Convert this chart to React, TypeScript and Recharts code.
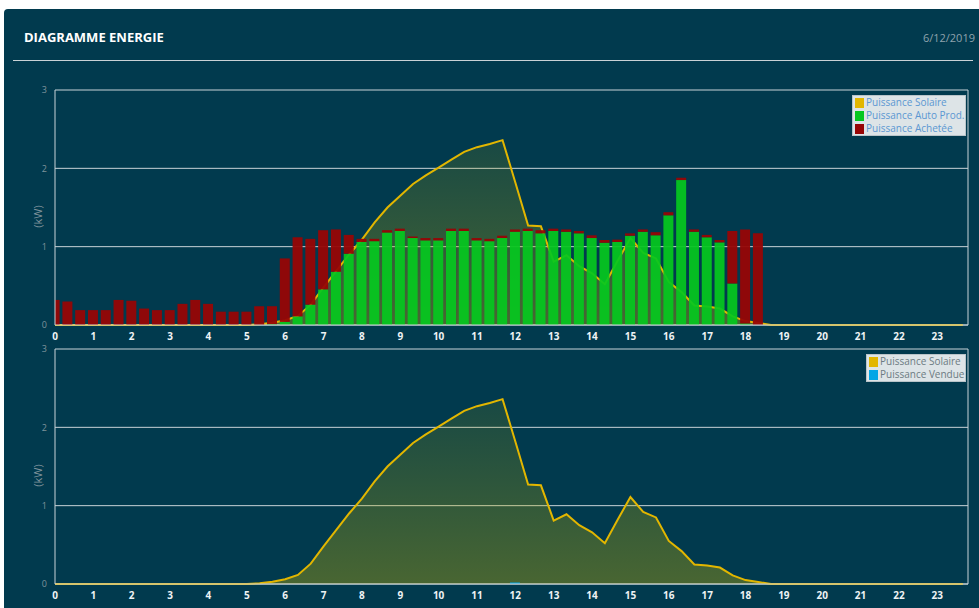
import { ComposedChart, Bar, Area, XAxis, YAxis, CartesianGrid, ReferenceLine } from 'recharts'

// pas de 20 minutes
const heures = [
  '0:00', '0:20', '0:40', '1:00', '1:20', '1:40', '2:00', '2:20', '2:40', '3:00', '3:20', '3:40',
  '4:00', '4:20', '4:40', '5:00', '5:20', '5:40', '6:00', '6:20', '6:40', '7:00', '7:20', '7:40',
  '8:00', '8:20', '8:40', '9:00', '9:20', '9:40', '10:00', '10:20', '10:40', '11:00', '11:20', '11:40',
  '12:00', '12:20', '12:40', '13:00', '13:20', '13:40', '14:00', '14:20', '14:40', '15:00', '15:20', '15:40',
  '16:00', '16:20', '16:40', '17:00', '17:20', '17:40', '18:00', '18:20', '18:40', '19:00', '19:20', '19:40',
  '20:00', '20:20', '20:40', '21:00', '21:20', '21:40', '22:00', '22:20', '22:40', '23:00', '23:20', '23:40',
]

const ticksHeures = [0, 1, 2, 3, 4, 5, 6, 7, 8, 9, 10, 11, 12, 13, 14, 15, 16, 17, 18, 19, 20, 21, 22, 23]
const ticksKw = [0, 1, 2, 3]

const puissanceSolaire = [
  0, 0, 0, 0, 0, 0, 0, 0, 0, 0, 0, 0,
  0, 0, 0, 0, 0.01, 0.03, 0.06, 0.115, 0.26, 0.48, 0.69, 0.9,
  1.09, 1.31, 1.5, 1.65, 1.8, 1.91, 2.01, 2.11, 2.21, 2.27, 2.31, 2.36,
  1.82, 1.27, 1.26, 0.81, 0.89, 0.75, 0.66, 0.52, 0.82, 1.11, 0.92, 0.85,
  0.55, 0.42, 0.25, 0.235, 0.21, 0.11, 0.05, 0.025, 0, 0, 0, 0,
  0, 0, 0, 0, 0, 0, 0, 0, 0, 0, 0, 0,
]

const puissanceAutoProd = [
  0, 0, 0, 0, 0, 0, 0, 0, 0, 0, 0, 0,
  0, 0, 0, 0, 0, 0.01, 0.04, 0.11, 0.26, 0.455, 0.68, 0.91,
  1.06, 1.07, 1.18, 1.2, 1.11, 1.08, 1.08, 1.2, 1.2, 1.08, 1.07, 1.11,
  1.19, 1.2, 1.17, 1.2, 1.19, 1.17, 1.11, 1.05, 1.06, 1.14, 1.19, 1.145,
  1.4, 1.85, 1.19, 1.12, 1.055, 0.53, 0.02, 0, null, null, null, null,
  null, null, null, null, null, null, null, null, null, null, null, null,
]

const puissanceAchetee = [
  0.32, 0.3, 0.19, 0.19, 0.19, 0.32, 0.31, 0.21, 0.19, 0.19, 0.27, 0.32,
  0.27, 0.17, 0.17, 0.17, 0.24, 0.23, 0.81, 1.01, 0.84, 0.755, 0.54, 0.24,
  0.04, 0.03, 0.03, 0.03, 0.02, 0.03, 0.03, 0.03, 0.03, 0.03, 0.03, 0.03,
  0.03, 0.03, 0.04, 0.03, 0.03, 0.03, 0.035, 0.035, 0.03, 0.03, 0.03, 0.04,
  0.04, 0.03, 0.03, 0.03, 0.03, 0.67, 1.2, 1.17, null, null, null, null,
  null, null, null, null, null, null, null, null, null, null, null, null,
]

const puissanceVendue = [
  0, 0, 0, 0, 0, 0, 0, 0, 0, 0, 0, 0,
  0, 0, 0, 0, 0, 0, 0, 0, 0, 0, 0, 0,
  0, 0, 0, 0, 0, 0, 0, 0, 0, 0, 0, 0,
  0.02, 0, 0, 0, 0, 0, 0, 0, 0, 0, 0, 0,
  0, 0, 0, 0, 0, 0, 0, 0, 0, 0, 0, 0,
  0, 0, 0, 0, 0, 0, 0, 0, 0, 0, 0, 0,
]

const FIN_JOURNEE = 23.8

const COLORS = {
  fond: '#013a4e',
  grille: '#c9d3d8',
  solaire: '#e2b600',
  autoProd: '#05c71f',
  achetee: '#970505',
  vendue: '#00a6e6',
}

const toHours = (h: string) => {
  const [hh, mm] = h.split(':').map(Number)
  return hh + mm / 60
}

const data = heures.map((h, i) => ({
  t: toHours(h),
  solaire: puissanceSolaire[i],
  autoProd: puissanceAutoProd[i],
  achetee: puissanceAchetee[i],
  vendue: puissanceVendue[i],
}))

const font = '"Open Sans", sans-serif'

function LegendBox({ items, textColor, style }: { items: { label: string; color: string }[]; textColor: string; style: any }) {
  return (
    <div
      style={{
        position: 'absolute',
        background: '#dde4e7',
        border: '1px solid #b9c4c9',
        padding: '0 0 0 2px',
        fontFamily: font,
        fontSize: 10,
        lineHeight: '13px',
        whiteSpace: 'nowrap',
        ...style,
      }}
    >
      {items.map((it) => (
        <div key={it.label} style={{ display: 'flex', alignItems: 'center' }}>
          <span style={{ width: 9, height: 10, background: it.color, marginRight: 2, display: 'inline-block' }} />
          <span style={{ color: textColor }}>{it.label}</span>
        </div>
      ))}
    </div>
  )
}

// libellé (kW) un peu sous le centre, comme l'original
const KwLabel = ({ viewBox }: any) => {
  const x = viewBox.x + viewBox.width / 2
  const y = viewBox.y + viewBox.height / 2 + 9
  return (
    <text x={x} y={y} transform={`rotate(-90, ${x}, ${y})`} textAnchor="middle" dominantBaseline="central" fill="#7f939c" fontSize={11} fontFamily={font}>
      (kW)
    </text>
  )
}

function Panel({ id, children }: { id: string; children: any }) {
  return (
    <ComposedChart width={979} height={345} data={data} margin={{ top: 90, right: 11, bottom: 0, left: 19 }}>
      <defs>
        <linearGradient id={id} x1="0" y1="0" x2="0" y2="1">
          <stop offset="0%" stopColor="#b8b000" stopOpacity={0.13} />
          <stop offset="100%" stopColor="#c8b400" stopOpacity={0.36} />
        </linearGradient>
      </defs>
      <CartesianGrid vertical={false} stroke={COLORS.grille} strokeWidth={1} />
      <XAxis
        dataKey="t"
        type="number"
        domain={[0, FIN_JOURNEE]}
        ticks={ticksHeures}
        allowDataOverflow
        height={20}
        tickLine={false}
        axisLine={{ stroke: COLORS.grille }}
        tick={{ fill: '#eef3f5', fontSize: 10, fontWeight: 700, fontFamily: font }}
        interval={0}
      />
      <YAxis
        domain={[0, 3]}
        ticks={ticksKw}
        width={36}
        tickLine={false}
        axisLine={{ stroke: COLORS.grille }}
        tick={{ fill: '#7f939c', fontSize: 9, fontFamily: font }}
        label={<KwLabel />}
      />
      <ReferenceLine x={FIN_JOURNEE} stroke={COLORS.grille} />
      <Area
        type="linear"
        dataKey="solaire"
        stroke={COLORS.solaire}
        strokeWidth={2}
        fill={`url(#${id})`}
        fillOpacity={1}
        dot={false}
        activeDot={false}
        isAnimationActive={false}
      />
      {children}
    </ComposedChart>
  )
}

export default function App() {
  return (
    <div style={{ position: 'fixed', left: 0, top: 0, width: 979, height: 608, background: '#fff', overflow: 'hidden' }}>
      <div
        style={{
          position: 'absolute',
          left: 4,
          top: 9,
          width: 990,
          height: 620,
          background: COLORS.fond,
          borderRadius: 4,
        }}
      />
      <div style={{ position: 'absolute', left: 24, top: 28, color: '#fff', fontFamily: font, fontWeight: 700, fontSize: 13 }}>
        DIAGRAMME ENERGIE
      </div>
      <div style={{ position: 'absolute', right: 4, top: 30, color: '#8fa3ad', fontFamily: font, fontSize: 11 }}>6/12/2019</div>
      <div style={{ position: 'absolute', left: 13, top: 60, width: 960, height: 1, background: '#c9d2d6' }} />

      <div style={{ position: 'absolute', left: 0, top: 0 }}>
        <Panel id="gradSolaire1">
          <Bar dataKey="autoProd" stackId="a" fill={COLORS.autoProd} fillOpacity={0.93} barSize={10} isAnimationActive={false} />
          <Bar dataKey="achetee" stackId="a" fill={COLORS.achetee} fillOpacity={0.95} barSize={10} isAnimationActive={false} />
        </Panel>
      </div>
      <div style={{ position: 'absolute', left: 0, top: 259 }}>
        <Panel id="gradSolaire2">
          <Bar dataKey="vendue" fill={COLORS.vendue} barSize={10} isAnimationActive={false} />
        </Panel>
      </div>

      <LegendBox
        style={{ left: 852, top: 95, width: 110 }}
        textColor="#5b97d2"
        items={[
          { label: 'Puissance Solaire', color: COLORS.solaire },
          { label: 'Puissance Auto Prod.', color: COLORS.autoProd },
          { label: 'Puissance Achetée', color: COLORS.achetee },
        ]}
      />
      <LegendBox
        style={{ left: 866, top: 354, width: 96 }}
        textColor="#6c7b82"
        items={[
          { label: 'Puissance Solaire', color: COLORS.solaire },
          { label: 'Puissance Vendue', color: COLORS.vendue },
        ]}
      />
    </div>
  )
}
